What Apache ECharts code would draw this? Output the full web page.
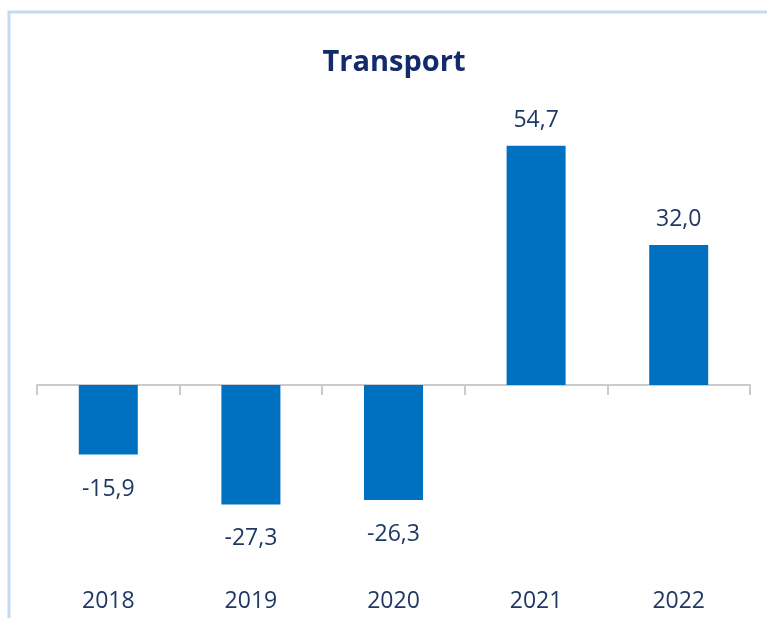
<!DOCTYPE html>
<html>
<head>
<meta charset="utf-8">
<script src="https://cdn.jsdelivr.net/npm/echarts@6/dist/echarts.min.js"></script>
<style>html,body{margin:0;padding:0;background:#fff}#c{width:767px;height:618px}</style>
</head>
<body>
<div id="c"></div>
<script>
var titleText = 'Transport';
var categories = ['2018', '2019', '2020', '2021', '2022'];
var values = [-15.9, -27.3, -26.3, 54.7, 32.0];

var chart = echarts.init(document.getElementById('c'), null, {renderer: 'canvas'});
var labelFont = 'Open Sans';
var textColor = '#1F3864';
var seriesData = values.map(function (v) {
  return {value: v, label: {position: v < 0 ? 'bottom' : 'top', distance: v < 0 ? 23 : 14}};
});
chart.setOption({
  animation: false,
  backgroundColor: '#fff',
  title: {
    text: titleText,
    left: 389,
    textAlign: 'center',
    top: 43,
    textStyle: {fontFamily: labelFont, fontWeight: 'bold', fontSize: 29, color: '#132B6A'}
  },
  graphic: [{
    type: 'rect',
    shape: {x: 9, y: 12, width: 900, height: 800},
    style: {fill: 'none', stroke: '#C3DAF0', lineWidth: 3},
    silent: true
  }],
  grid: {left: 37, right: 17, top: 122.5, bottom: 58, containLabel: false},
  xAxis: [{
    type: 'category',
    data: categories,
    axisLine: {onZero: true, lineStyle: {color: '#CBCBCB', width: 2}},
    axisTick: {show: true, length: 10, lineStyle: {color: '#CBCBCB', width: 2}},
    axisLabel: {show: false}
  }, {
    type: 'category',
    data: categories,
    position: 'bottom',
    axisLine: {show: false, onZero: false},
    axisTick: {show: false},
    axisLabel: {margin: 30, fontFamily: labelFont, fontSize: 23, color: textColor}
  }],
  yAxis: {
    type: 'value', min: -40, max: 60,
    show: false,
    splitLine: {show: false}
  },
  series: [{
    type: 'bar',
    xAxisIndex: 0,
    data: seriesData,
    barWidth: 59,
    itemStyle: {color: '#0070C0'},
    label: {
      show: true,
      fontFamily: labelFont, fontSize: 23, color: textColor,
      formatter: function (p) { return p.value.toFixed(1).replace('.', ','); }
    }
  }]
});
</script>
</body>
</html>
